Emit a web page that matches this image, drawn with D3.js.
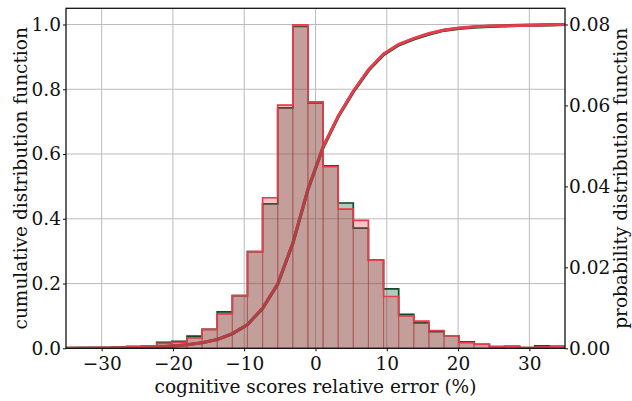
<!DOCTYPE html>
<html>
<head>
<meta charset="utf-8">
<script src="https://cdn.jsdelivr.net/npm/d3@7"></script>
<style>
  body { margin: 0; background: #fff; }
  svg text { font-family: "DejaVu Serif", "Liberation Serif", serif; fill: #111; }
</style>
</head>
<body>
<svg id="chart" width="632" height="401"></svg>
<script>
// histogram bin edges (33 bins between -35 and 35)
var binEdges = [-35, -32.879, -30.758, -28.636, -26.515, -24.394, -22.273, -20.152, -18.030,
  -15.909, -13.788, -11.667, -9.545, -7.424, -5.303, -3.182, -1.061, 1.061, 3.182, 5.303,
  7.424, 9.545, 11.667, 13.788, 15.909, 18.030, 20.152, 22.273, 24.394, 26.515, 28.636,
  30.758, 32.879, 35];

// probability density per bin
var pdfGreen = [0.0001, 0.0001, 0.0001, 0.0002, 0.0004, 0.0006, 0.0015, 0.0017, 0.0030, 0.0047,
  0.0090, 0.0130, 0.0239, 0.0357, 0.0594, 0.0795, 0.0606, 0.0451, 0.0359, 0.0297,
  0.0218, 0.0147, 0.0084, 0.0063, 0.0041, 0.0031, 0.0016, 0.0010, 0.0004, 0.0005,
  0.0002, 0.0006, 0.0005];
var pdfRed = [0.0001, 0.0001, 0.0001, 0.0002, 0.0005, 0.0006, 0.0012, 0.0015, 0.0026, 0.0047,
  0.0085, 0.0130, 0.0239, 0.0372, 0.0601, 0.0799, 0.0609, 0.0449, 0.0344, 0.0316,
  0.0218, 0.0128, 0.0080, 0.0067, 0.0044, 0.0031, 0.0014, 0.0010, 0.0004, 0.0005,
  0.0002, 0.0003, 0.0005];

// cumulative distribution at each bin edge
var cdfGreen = [0, 0.0003, 0.0006, 0.001, 0.0015, 0.0025, 0.004, 0.007, 0.011, 0.017,
  0.027, 0.045, 0.073, 0.123, 0.198, 0.324, 0.490, 0.620, 0.715, 0.792,
  0.858, 0.907, 0.937, 0.955, 0.970, 0.982, 0.988, 0.992, 0.994, 0.996,
  0.997, 0.998, 0.999, 1.0];
var cdfRed = [0, 0.0003, 0.0006, 0.001, 0.0015, 0.0025, 0.004, 0.007, 0.011, 0.017,
  0.027, 0.045, 0.073, 0.124, 0.199, 0.325, 0.492, 0.622, 0.717, 0.794,
  0.860, 0.909, 0.939, 0.957, 0.972, 0.983, 0.989, 0.993, 0.995, 0.996,
  0.997, 0.998, 0.999, 1.0];

var xTicks = [-30, -20, -10, 0, 10, 20, 30];
var cdfTicks = [0, 0.2, 0.4, 0.6, 0.8, 1.0];
var pdfTicks = [0, 0.02, 0.04, 0.06, 0.08];

var greenCol = "#0b4f2a";
var redCol = "#e63c4c";

var plotL = 66, plotR = 565, plotT = 8.3, plotB = 348.3;
var svg = d3.select("#chart");

var x = d3.scaleLinear().domain([-35, 35]).range([plotL, plotR]);
var yL = d3.scaleLinear().domain([0, 1.05]).range([plotB, plotT]);
var yR = d3.scaleLinear().domain([0, 0.084]).range([plotB, plotT]);

svg.append("defs").append("clipPath").attr("id", "plot")
  .append("rect").attr("x", plotL).attr("y", plotT)
  .attr("width", plotR - plotL).attr("height", plotB - plotT);

// grid
var grid = svg.append("g").attr("stroke", "#bcbcbc").attr("stroke-width", 1);
grid.selectAll(".gx").data(xTicks).enter().append("line")
  .attr("x1", function(d) { return x(d); }).attr("x2", function(d) { return x(d); })
  .attr("y1", plotT).attr("y2", plotB);
grid.selectAll(".gy").data(cdfTicks).enter().append("line")
  .attr("x1", plotL).attr("x2", plotR)
  .attr("y1", function(d) { return yL(d); }).attr("y2", function(d) { return yL(d); });

var plot = svg.append("g").attr("clip-path", "url(#plot)");

// cdf lines
var cdfLine = function(vals) {
  return d3.line()
    .x(function(d, i) { return x(binEdges[i]); })
    .y(function(d) { return yL(d); })(vals);
};
plot.append("path").attr("d", cdfLine(cdfGreen))
  .attr("fill", "none").attr("stroke", greenCol).attr("stroke-width", 3.2);
plot.append("path").attr("d", cdfLine(cdfRed))
  .attr("fill", "none").attr("stroke", redCol).attr("stroke-width", 3);

// histograms drawn on the twin axis
function drawHist(vals, col) {
  var g = plot.append("g");
  g.selectAll("rect").data(vals).enter().append("rect")
    .attr("x", function(d, i) { return x(binEdges[i]); })
    .attr("width", function(d, i) { return x(binEdges[i + 1]) - x(binEdges[i]); })
    .attr("y", function(d) { return yR(d); })
    .attr("height", function(d) { return plotB - yR(d); })
    .attr("fill", col).attr("fill-opacity", 0.3)
    .attr("stroke", col).attr("stroke-opacity", 0.3).attr("stroke-width", 1);

  var pts = [[x(binEdges[0]), yR(0)]];
  vals.forEach(function(d, i) {
    pts.push([x(binEdges[i]), yR(d)]);
    pts.push([x(binEdges[i + 1]), yR(d)]);
  });
  pts.push([x(binEdges[binEdges.length - 1]), yR(0)]);
  g.append("path").attr("d", d3.line()(pts))
    .attr("fill", "none").attr("stroke", col).attr("stroke-width", 1.7);
}
drawHist(pdfGreen, greenCol);
drawHist(pdfRed, redCol);

// frame
svg.append("rect").attr("x", plotL).attr("y", plotT)
  .attr("width", plotR - plotL).attr("height", plotB - plotT)
  .attr("fill", "none").attr("stroke", "#111").attr("stroke-width", 1.3);

// axes
var fs = 18.5;
var xAxis = svg.append("g").attr("transform", "translate(0," + plotB + ")")
  .call(d3.axisBottom(x).tickValues(xTicks).tickSize(3).tickPadding(6).tickFormat(d3.format("d")));
var lAxis = svg.append("g").attr("transform", "translate(" + plotL + ",0)")
  .call(d3.axisLeft(yL).tickValues(cdfTicks).tickSize(3).tickPadding(2).tickFormat(d3.format(".1f")));
var rAxis = svg.append("g").attr("transform", "translate(" + plotR + ",0)")
  .call(d3.axisRight(yR).tickValues(pdfTicks).tickSize(3).tickPadding(1).tickFormat(d3.format(".2f")));
[xAxis, lAxis, rAxis].forEach(function(a) {
  a.select(".domain").remove();
  a.selectAll("line").attr("stroke", "#111");
  a.selectAll("text").attr("font-size", fs).attr("font-family", null).attr("fill", "#111");
});

// labels
svg.append("text").attr("x", (plotL + plotR) / 2).attr("y", 393)
  .attr("text-anchor", "middle").attr("font-size", fs)
  .text("cognitive scores relative error (%)");
svg.append("text")
  .attr("transform", "translate(27," + (plotT + plotB) / 2 + ") rotate(-90)")
  .attr("text-anchor", "middle").attr("font-size", fs)
  .text("cumulative distribution function");
svg.append("text")
  .attr("transform", "translate(627," + (plotT + plotB) / 2 + ") rotate(-90)")
  .attr("text-anchor", "middle").attr("font-size", fs)
  .text("probability distribution function");
</script>
</body>
</html>
